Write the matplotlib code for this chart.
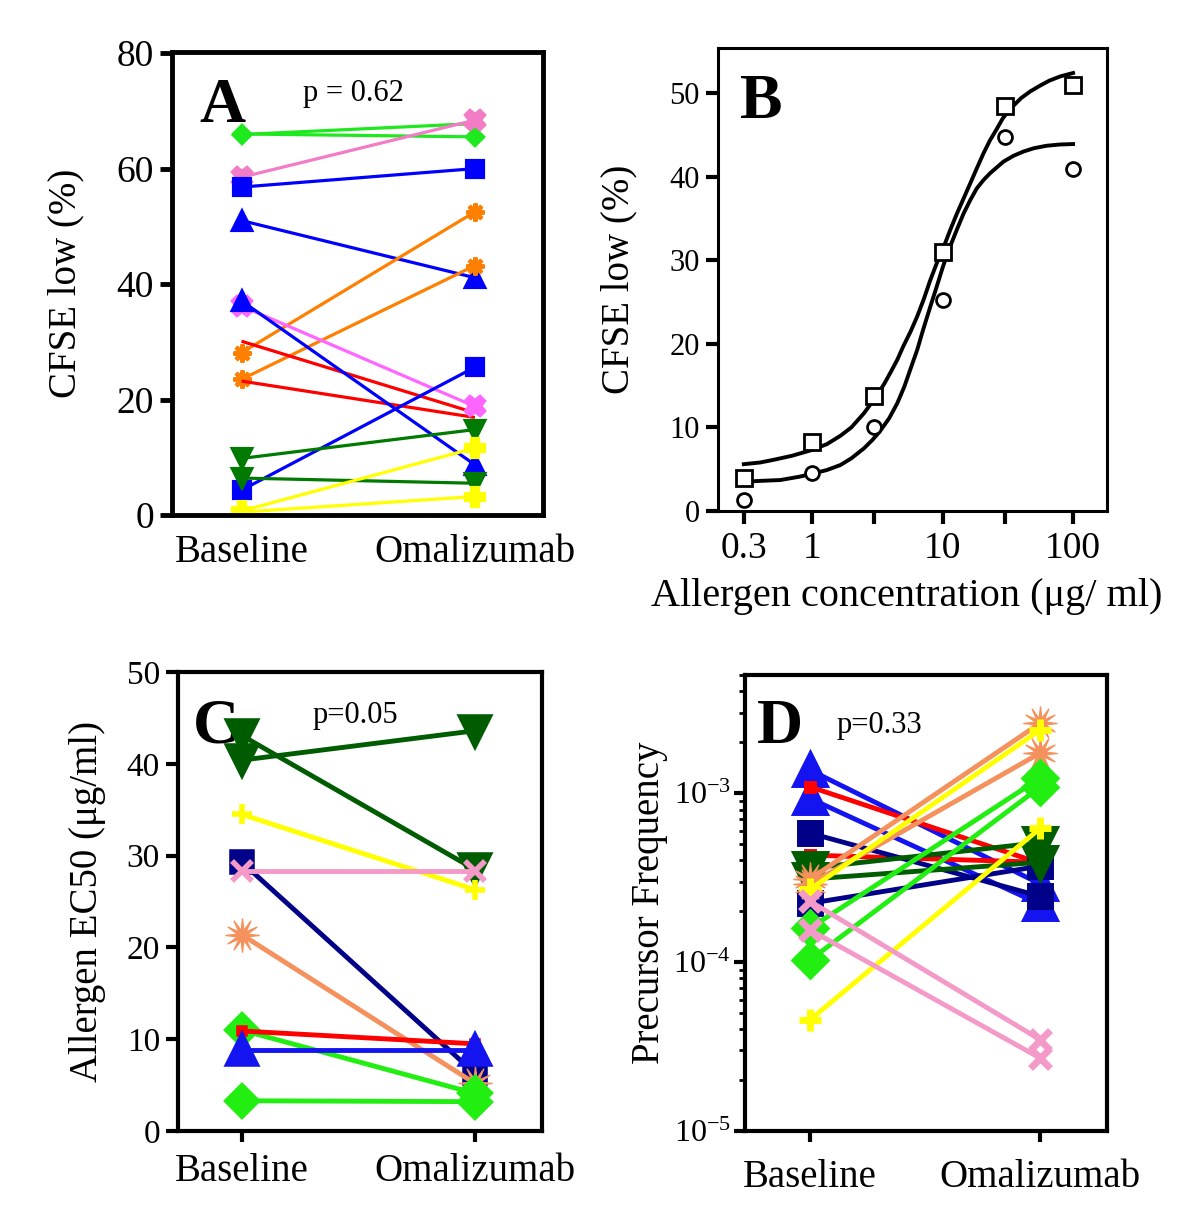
import matplotlib
matplotlib.use("Agg")
import matplotlib.pyplot as plt
from matplotlib.path import Path

plt.rcParams['font.family'] = ['Liberation Serif', 'DejaVu Serif']
plt.rcParams['mathtext.fontset'] = 'custom'
plt.rcParams['mathtext.rm'] = 'Liberation Serif'

# ---------------- data ----------------
groups = ["Baseline", "Omalizumab"]

# panel A: CFSE low (%)
a_baseline = [65.9, 66.0, 58.5, 56.8, 51.0, 28.1, 23.5, 30.1, 23.2, 36.2, 37.1, 4.3, 9.8, 6.4, 0.7, 0.5]
a_omalizumab = [67.8, 65.5, 68.4, 60.0, 41.1, 52.5, 43.2, 17.7, 16.9, 18.8, 8.7, 25.6, 14.8, 5.5, 11.6, 3.2]

# panel B: dose response of one subject
b_conc = [0.3, 1, 3, 10, 30, 100]
b_squares = [4.0, 8.3, 13.8, 31.0, 48.4, 51.0]
b_circles = [1.3, 4.6, 10.0, 25.2, 44.7, 40.9]
# fitted curves
b_fit1_x = [0.3, 0.4, 0.5, 0.7, 1.0, 1.3, 1.65, 2.0, 2.5, 3.1, 3.6, 4.0, 4.5, 5.0, 5.7, 6.4, 7.2,
            8.0, 9.0, 10.2, 11.5, 12.9, 14.5, 16.3, 18.3, 20.6, 23, 26, 29, 33, 40, 47, 56, 66, 80, 100]
b_fit1_y = [5.6, 5.8, 6.1, 6.6, 7.3, 8.0, 9.0, 10.0, 11.7, 13.7, 15.3, 16.6, 18.1, 19.7, 21.5, 23.3, 25.4,
            27.5, 29.6, 31.6, 33.7, 35.6, 37.4, 39.2, 41.0, 42.8, 44.3, 45.7, 47.0, 48.1, 49.4, 50.2, 50.9, 51.5, 52.0, 52.4]
b_fit2_x = [0.3, 0.4, 0.57, 0.8, 1.03, 1.3, 1.65, 2.0, 2.5, 2.9, 3.3, 3.9, 4.5, 5.1, 5.65, 6.4, 7.1, 8.0,
            9.0, 10.1, 11.4, 12.9, 14.5, 16.3, 18.3, 20.6, 23.1, 26, 29.3, 35, 41.6, 50, 62.8, 80, 100]
b_fit2_y = [3.5, 3.6, 3.7, 4.1, 4.5, 4.9, 5.5, 6.3, 7.5, 8.5, 9.5, 11.1, 12.9, 14.9, 16.9, 19.3, 21.7, 24.3,
            26.8, 29.3, 31.6, 33.7, 35.6, 37.2, 38.6, 39.6, 40.4, 41.1, 41.8, 42.5, 43.0, 43.4, 43.7, 43.85, 43.9]

# panel C: allergen EC50 (ug/ml)
c_baseline = [43.1, 40.4, 34.5, 29.3, 28.3, 21.4, 11.0, 10.9, 8.8, 3.3]
c_omalizumab = [28.5, 43.6, 26.3, 6.3, 28.3, 5.2, 4.1, 9.5, 8.8, 3.2]

# panel D: precursor frequency
d_baseline = [1.37e-3, 9.3e-4, 1.09e-3, 4.3e-4, 5.8e-4, 2.23e-4, 3.6e-4, 3.1e-4,
              3.1e-4, 2.9e-4, 2.7e-4, 4.56e-5, 1.59e-4, 1.03e-4, 2.29e-4, 1.55e-4]
d_omalizumab = [2.9e-4, 2.2e-4, 3.85e-4, 3.9e-4, 2.45e-4, 3.7e-4, 5.1e-4, 3.9e-4,
                2.6e-3, 1.73e-3, 2.37e-3, 6.2e-4, 1.23e-3, 1.09e-3, 3.47e-5, 2.7e-5]

# ---------------- styles ----------------
ast = (8, 2, 0)
burst = Path.unit_regular_star(12, 0.3)

a_styles = [  # color, marker, size
    ('#1EE81E', 'D', 8), ('#1EE81E', 'D', 8), ('#F27CC6', 'X', 13), ('#0000FF', 's', 12),
    ('#0000FF', '^', 13), ('#FF8000', ast, 13), ('#FF8000', ast, 13), ('#FF0000', None, 0),
    ('#FF0000', None, 0), ('#FF66FF', 'X', 13), ('#0000FF', '^', 13), ('#0000FF', 's', 12),
    ('#007A00', 'v', 13), ('#007A00', 'v', 13), ('#FFFF00', 'P', 13), ('#FFFF00', 'P', 13),
]
c_styles = [
    ('#005C00', 'v', 20), ('#005C00', 'v', 20), ('#FFFF00', '+', 15), ('#000088', 's', 14),
    ('#F49AC8', 'x', 14), ('#F4915C', burst, 24), ('#22EE11', 'D', 15), ('#FF0000', 's', 5),
    ('#1414F0', '^', 20), ('#22EE11', 'D', 15),
]
d_styles = [
    ('#1414F0', '^', 20), ('#1414F0', '^', 20), ('#FF0000', 's', 5), ('#FF0000', 's', 5),
    ('#000088', 's', 15), ('#000088', 's', 15), ('#005C00', 'v', 20), ('#005C00', 'v', 20),
    ('#F4915C', burst, 24), ('#F4915C', burst, 24), ('#FFFF00', '+', 16), ('#FFFF00', '+', 16),
    ('#22EE11', 'D', 15), ('#22EE11', 'D', 15), ('#F49AC8', 'x', 15), ('#F49AC8', 'x', 15),
]


def paired(ax, base, omal, styles, lw, mew):
    for b, o, (c, m, s) in zip(base, omal, styles):
        w = 1 if isinstance(m, Path) else mew
        ax.plot([0, 1], [b, o], color=c, lw=lw, marker=m, ms=s,
                mfc=c, mec=c, mew=w, solid_capstyle='butt')


def boxed(ax, lw):
    for sp in ax.spines.values():
        sp.set_linewidth(lw)


fig = plt.figure(figsize=(12, 12.23), dpi=100)

# ---------------- A ----------------
axA = fig.add_axes([0.1433, 0.5789, 0.3092, 0.3786])
paired(axA, a_baseline, a_omalizumab, a_styles, 2.3, 3)
axA.set_xlim(-0.298, 1.292)
axA.set_ylim(0, 80.2)
axA.set_yticks([0, 20, 40, 60, 80])
axA.set_xticks([0, 1])
axA.set_xticklabels(groups)
axA.tick_params(axis='y', direction='out', length=9, width=3.5, labelsize=27, pad=4)
axA.tick_params(axis='x', length=0, labelsize=28, pad=14)
axA.set_ylabel("CFSE low (%)", fontsize=28)
axA.yaxis.set_label_coords(-0.237, 0.5)
boxed(axA, 3.5)
axA.text(0.075, 0.849, "A", transform=axA.transAxes, fontsize=46, fontweight='bold')
axA.text(0.353, 0.894, "p = 0.62", transform=axA.transAxes, fontsize=22)

# ---------------- B ----------------
axB = fig.add_axes([0.5983, 0.5822, 0.3242, 0.3786])
axB.plot(b_fit1_x, b_fit1_y, color='black', lw=2.8, solid_joinstyle='round')
axB.plot(b_fit2_x, b_fit2_y, color='black', lw=2.8, solid_joinstyle='round')
axB.plot(b_conc, b_squares, ls='none', marker='s', ms=12, mfc='white', mec='black', mew=2)
axB.plot(b_conc, b_circles, ls='none', marker='o', ms=10, mfc='white', mec='black', mew=2)
axB.set_xscale('log')
axB.set_xlim(0.19, 182)
axB.set_ylim(0, 55.4)
axB.set_xticks(b_conc)
axB.set_xticklabels(['0.3', '1', '', '10', '', '100'])
axB.minorticks_off()
axB.set_yticks([0, 10, 20, 30, 40, 50])
axB.tick_params(axis='x', direction='out', length=9, width=3, labelsize=27, pad=6)
axB.tick_params(axis='y', direction='out', length=9, width=3, labelsize=22, pad=4)
axB.set_ylabel("CFSE low (%)", fontsize=28)
axB.yaxis.set_label_coords(-0.206, 0.5)
axB.set_xlabel("Allergen concentration (μg/ ml)", fontsize=29)
axB.xaxis.set_label_coords(0.486, -0.145)
boxed(axB, 2.2)
axB.text(0.057, 0.849, "B", transform=axB.transAxes, fontsize=46, fontweight='bold')

# ---------------- C ----------------
axC = fig.add_axes([0.1483, 0.0752, 0.3033, 0.3753])
paired(axC, c_baseline, c_omalizumab, c_styles, 3.5, 4)
axC.set_xlim(-0.273, 1.288)
axC.set_ylim(0, 50)
axC.set_yticks([0, 10, 20, 30, 40, 50])
axC.set_xticks([0, 1])
axC.set_xticklabels(groups)
axC.tick_params(axis='y', direction='out', length=9, width=3, labelsize=24, pad=4)
axC.tick_params(axis='x', direction='out', length=8, width=3, labelsize=28, pad=8)
axC.set_ylabel("Allergen EC50 (μg/ml)", fontsize=28)
axC.yaxis.set_label_coords(-0.198, 0.5)
boxed(axC, 3)
axC.text(0.041, 0.847, "C", transform=axC.transAxes, fontsize=46, fontweight='bold', zorder=0)
axC.text(0.371, 0.889, "p=0.05", transform=axC.transAxes, fontsize=22)

# ---------------- D ----------------
axD = fig.add_axes([0.6208, 0.0752, 0.3017, 0.3728])
paired(axD, d_baseline, d_omalizumab, d_styles, 3.5, 5)
axD.set_yscale('log')
axD.set_xlim(-0.283, 1.29)
axD.set_ylim(1e-5, 5e-3)
axD.set_yticks([1e-5, 1e-4, 1e-3])
axD.set_yticklabels([r'$\mathregular{10^{-5}}$', r'$\mathregular{10^{-4}}$', r'$\mathregular{10^{-3}}$'])
axD.set_xticks([0, 1])
axD.set_xticklabels(groups)
axD.tick_params(axis='y', which='major', direction='out', length=8, width=3, labelsize=23, pad=2)
axD.tick_params(axis='y', which='minor', direction='out', length=4, width=2)
axD.tick_params(axis='x', direction='out', length=8, width=3, labelsize=28, pad=12)
axD.set_ylabel("Precursor Frequency", fontsize=28)
axD.yaxis.set_label_coords(-0.212, 0.5)
boxed(axD, 3)
axD.text(0.033, 0.851, "D", transform=axD.transAxes, fontsize=46, fontweight='bold')
axD.text(0.254, 0.873, "p=0.33", transform=axD.transAxes, fontsize=22)

fig.savefig("out.png", dpi=100)
